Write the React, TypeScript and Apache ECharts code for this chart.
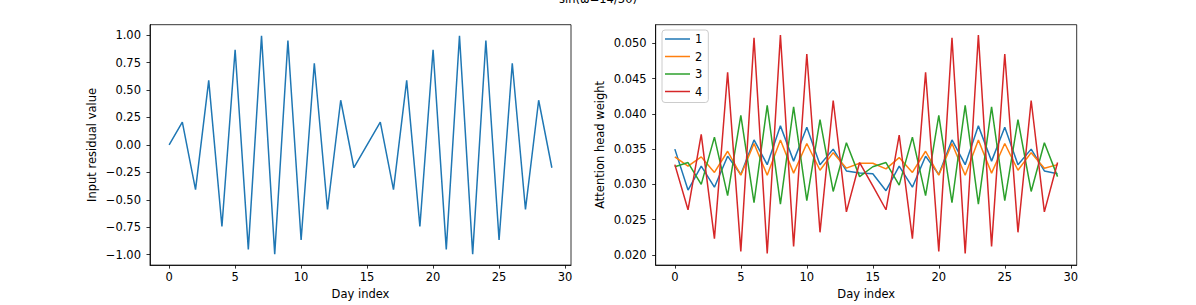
import React, { useEffect, useRef } from "react";
import * as echarts from "echarts";

const days = [0, 1, 2, 3, 4, 5, 6, 7, 8, 9, 10, 11, 12, 13, 14, 15, 16, 17, 18, 19, 20, 21, 22, 23, 24, 25, 26, 27, 28, 29];

const inputResidual = [
  0.0, 0.2079, -0.4067, 0.5878, -0.7431, 0.866, -0.9511, 0.9945, -0.9945, 0.9511,
  -0.866, 0.7431, -0.5878, 0.4067, -0.2079, 0.0, 0.2079, -0.4067, 0.5878, -0.7431,
  0.866, -0.9511, 0.9945, -0.9945, 0.9511, -0.866, 0.7431, -0.5878, 0.4067, -0.2079,
];

const head1 = [
  0.035, 0.0292, 0.0326, 0.0296, 0.034, 0.0314, 0.0363, 0.0328, 0.0383, 0.0333,
  0.0381, 0.0328, 0.035, 0.0319, 0.0316, 0.0315, 0.0291, 0.0326, 0.0296, 0.034,
  0.0314, 0.0363, 0.0328, 0.0383, 0.0333, 0.0381, 0.0328, 0.035, 0.0319, 0.0315,
];
const head2 = [
  0.0339, 0.0326, 0.0339, 0.0317, 0.0347, 0.0313, 0.0358, 0.0313, 0.0363, 0.0316,
  0.0358, 0.032, 0.0345, 0.0323, 0.033, 0.033, 0.0322, 0.0338, 0.0317, 0.0347,
  0.0313, 0.0358, 0.0313, 0.0363, 0.0316, 0.0358, 0.032, 0.0345, 0.0323, 0.0328,
];
const head3 = [
  0.0325, 0.0331, 0.03, 0.0367, 0.0284, 0.0398, 0.0274, 0.0412, 0.0272, 0.041,
  0.0277, 0.0392, 0.029, 0.0359, 0.0311, 0.0325, 0.0331, 0.0299, 0.0367, 0.0284,
  0.0398, 0.0274, 0.0412, 0.0272, 0.041, 0.0277, 0.0392, 0.029, 0.0359, 0.0311,
];
const head4 = [
  0.0328, 0.0264, 0.0371, 0.0223, 0.0459, 0.0205, 0.0508, 0.0202, 0.0512, 0.0212,
  0.0485, 0.0232, 0.0419, 0.0261, 0.0331, 0.0298, 0.0264, 0.037, 0.0223, 0.0459,
  0.0205, 0.0508, 0.0202, 0.0512, 0.0212, 0.0485, 0.0232, 0.0419, 0.0261, 0.0331,
];

const headNames = ["1", "2", "3", "4"];
const xTicks = [0, 5, 10, 15, 20, 25, 30];
const leftYTicks = [-1.0, -0.75, -0.5, -0.25, 0.0, 0.25, 0.5, 0.75, 1.0];
const rightYTicks = [0.02, 0.025, 0.03, 0.035, 0.04, 0.045, 0.05];
const titleText = "sin(ω=14/30)";
const xName = "Day index";
const leftYName = "Input residual value";
const rightYName = "Attention head weight";

const colors = ["#1f77b4", "#ff7f0e", "#2ca02c", "#d62728"];
const FONT = "DejaVu Sans";
const FS = 11.5;

const fmtLeft = (v: number) => (v < 0 ? "\u2212" + Math.abs(v).toFixed(2) : v.toFixed(2));
const fmtRight = (v: number) => v.toFixed(3);

export default function App() {
  const ref = useRef<HTMLDivElement>(null);
  useEffect(() => {
    if (!ref.current) return;
    const chart = echarts.init(ref.current, null, { renderer: "svg" });
    const pair = (arr: number[]) => days.map((d, i) => [d, arr[i]]);
    const heads = [head1, head2, head3, head4];

    const axisLine = { show: true, onZero: false, lineStyle: { color: "#000", width: 0.8 } };
    const axisTick = (vals: number[]) => ({
      show: true,
      inside: false,
      length: 3.5,
      lineStyle: { color: "#000", width: 0.8 },
      customValues: vals,
    });

    const xAxisBase = (gridIndex: number) => ({
      type: "value",
      gridIndex,
      position: "bottom",
      min: -1.45,
      max: 30.45,
      name: xName,
      nameLocation: "middle",
      nameGap: 20,
      nameTextStyle: { fontFamily: FONT, fontSize: FS, color: "#000" },
      axisLine,
      axisTick: axisTick(xTicks),
      axisLabel: {
        show: true,
        margin: 6,
        fontFamily: FONT,
        fontSize: FS,
        color: "#000",
        customValues: xTicks,
        formatter: (v: number) => String(v),
      },
      splitLine: { show: false },
    });

    const option: any = {
      animation: false,
      backgroundColor: "#fff",
      graphic: [
        {
          type: "text",
          x: 598,
          y: 5,
          style: {
            text: titleText,
            textAlign: "center",
            textVerticalAlign: "bottom",
            fontFamily: FONT,
            fontSize: FS,
            fill: "#000",
          },
        },
      ],
      grid: [
        { left: 150, top: 24.7, width: 421, height: 240.6, show: true, borderColor: "#000", borderWidth: 0.8, backgroundColor: "transparent" },
        { left: 655.7, top: 24.7, width: 421, height: 240.6, show: true, borderColor: "#000", borderWidth: 0.8, backgroundColor: "transparent" },
      ],
      xAxis: [xAxisBase(0), xAxisBase(1)],
      yAxis: [
        {
          type: "value",
          gridIndex: 0,
          position: "left",
          min: -1.0945,
          max: 1.0945,
          name: leftYName,
          nameLocation: "middle",
          nameGap: 52,
          nameTextStyle: { fontFamily: FONT, fontSize: FS, color: "#000" },
          axisLine,
          axisTick: axisTick(leftYTicks),
          axisLabel: { show: true, margin: 9, fontFamily: FONT, fontSize: FS, color: "#000", customValues: leftYTicks, formatter: fmtLeft },
          splitLine: { show: false },
        },
        {
          type: "value",
          gridIndex: 1,
          position: "left",
          min: 0.01855,
          max: 0.05265,
          name: rightYName,
          nameLocation: "middle",
          nameGap: 50,
          nameTextStyle: { fontFamily: FONT, fontSize: FS, color: "#000" },
          axisLine,
          axisTick: axisTick(rightYTicks),
          axisLabel: { show: true, margin: 9, fontFamily: FONT, fontSize: FS, color: "#000", customValues: rightYTicks, formatter: fmtRight },
          splitLine: { show: false },
        },
      ],
      legend: {
        data: headNames,
        orient: "vertical",
        left: 662,
        top: 30,
        icon: "rect",
        itemWidth: 25,
        itemHeight: 1.5,
        itemGap: 3.5,
        itemTextGap: 10,
        padding: [2, 6, 4, 3],
        backgroundColor: "rgba(255,255,255,0.8)",
        borderColor: "#cccccc",
        borderWidth: 1,
        borderRadius: 3,
        textStyle: { fontFamily: FONT, fontSize: FS, color: "#000", lineHeight: 14 },
        selectedMode: false,
      },
      series: [
        {
          type: "line",
          name: "input",
          xAxisIndex: 0,
          yAxisIndex: 0,
          data: pair(inputResidual),
          showSymbol: false,
          lineStyle: { color: colors[0], width: 1.5 },
          itemStyle: { color: colors[0] },
        },
        ...heads.map((h, k) => ({
          type: "line",
          name: headNames[k],
          xAxisIndex: 1,
          yAxisIndex: 1,
          data: pair(h),
          showSymbol: false,
          lineStyle: { color: colors[k], width: 1.5 },
          itemStyle: { color: colors[k] },
        })),
      ],
    };
    chart.setOption(option);
    return () => chart.dispose();
  }, []);
  return (
    <div
      ref={ref}
      style={{ position: "absolute", left: 0, top: 0, width: 1196, height: 305, background: "#fff" }}
    />
  );
}
